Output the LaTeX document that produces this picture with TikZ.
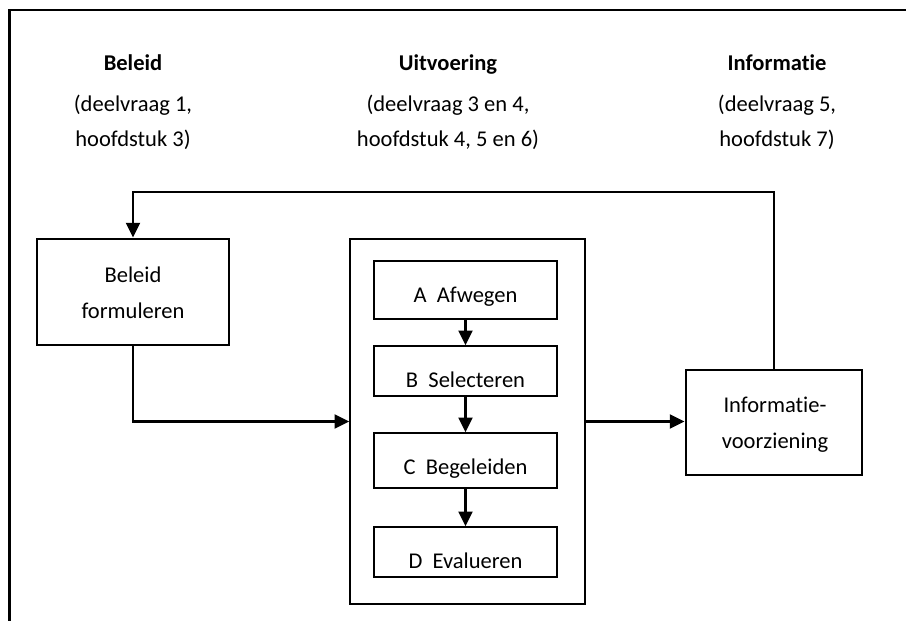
\documentclass[tikz,border=0pt]{standalone}
\usepackage{fontspec}
\setmainfont[RawFeature={-liga;-clig;-calt;-dlig;-rlig}]{Carlito}
\usetikzlibrary{arrows.meta}
\begin{document}
\begin{tikzpicture}[x=0.75pt,y=-0.75pt,
  every node/.style={font=\fontsize{16.9}{20}\selectfont},
  txt/.style={anchor=base,inner sep=0pt},
  hdr/.style={txt,font=\fontsize{16.9}{20}\selectfont\bfseries},
  thickbox/.style={draw,line width=2.2pt,inner sep=0pt},
  thinbox/.style={draw,line width=1.25pt,inner sep=0pt},
  conn/.style={line width=1.6pt},
  arr/.style={conn,-{Triangle[width=10.5pt,length=11pt]}},
  border/.style={line width=2.2pt}]
\useasboundingbox (0,0) rectangle (906,621);
\fill[white] (0,0) rectangle (906,621);
% outer (cropped) frame
\coordinate (ftr) at (906,10);
\coordinate (fbl) at (9.5,621);
\draw[border] (ftr) -| (fbl);
% headers
\node[hdr] (h1) at (133,70) {Beleid};
\node[txt] (h1a) at (133,111) {(deelvraag 1,};
\node[txt] (h1b) at (133,146) {hoofdstuk 3)};
\node[hdr] (h2) at (448,70) {Uitvoering};
\node[txt] (h2a) at (448,111) {(deelvraag 3 en 4,};
\node[txt] (h2b) at (448,146) {hoofdstuk 4, 5 en 6)};
\node[hdr] (h3) at (777,70) {Informat\kern0pt ie};
\node[txt] (h3a) at (777,111) {(deelvraag 5,};
\node[txt] (h3b) at (777,146) {hoofdstuk 7)};
% boxes
\node[thickbox,minimum width=144pt,minimum height=79.5pt] (bel) at (133,292) {};
\node[txt] (belt1) at (133,282) {Beleid};
\node[txt] (belt2) at (133,318) {formuleren};
\node[thinbox,minimum width=176.25pt,minimum height=273.75pt] (cont) at (467.5,421.5) {};
\node[thinbox,minimum width=137.25pt,minimum height=43.5pt] (A) at (465.5,290) {};
\node[txt] (At) at (465.5,302) {A\ \ Afwegen};
\node[thinbox,minimum width=137.25pt,minimum height=37.5pt] (B) at (465.5,371) {};
\node[txt] (Bt) at (465.5,387) {B\ \ Selecteren};
\node[thinbox,minimum width=137.25pt,minimum height=41.25pt] (C) at (465.5,460.5) {};
\node[txt] (Ct) at (465.5,474) {C\ \ Begeleiden};
\node[thinbox,minimum width=137.25pt,minimum height=37.5pt] (D) at (465.5,552) {};
\node[txt] (Dt) at (465.5,568) {D\ \ Evalueren};
\node[thickbox,minimum width=132pt,minimum height=78.75pt] (info) at (774,422.5) {};
\node[txt] (it1) at (775,412) {Informat\kern0pt ie-};
\node[txt] (it2) at (775,448) {voorziening};
% connectors
\coordinate (fb) at (0,192);
\draw[arr] (info.north) -- (info.north |- fb) -- (bel.north |- fb) -- (bel.north);
\draw[arr] (bel.south) |- (cont.west);
\draw[arr] (cont.east) -- (cont.east -| info.west);
\draw[arr] (A.south) -- (B.north);
\draw[arr] (B.south) -- (C.north);
\draw[arr] (C.south) -- (D.north);
\end{tikzpicture}
\end{document}
